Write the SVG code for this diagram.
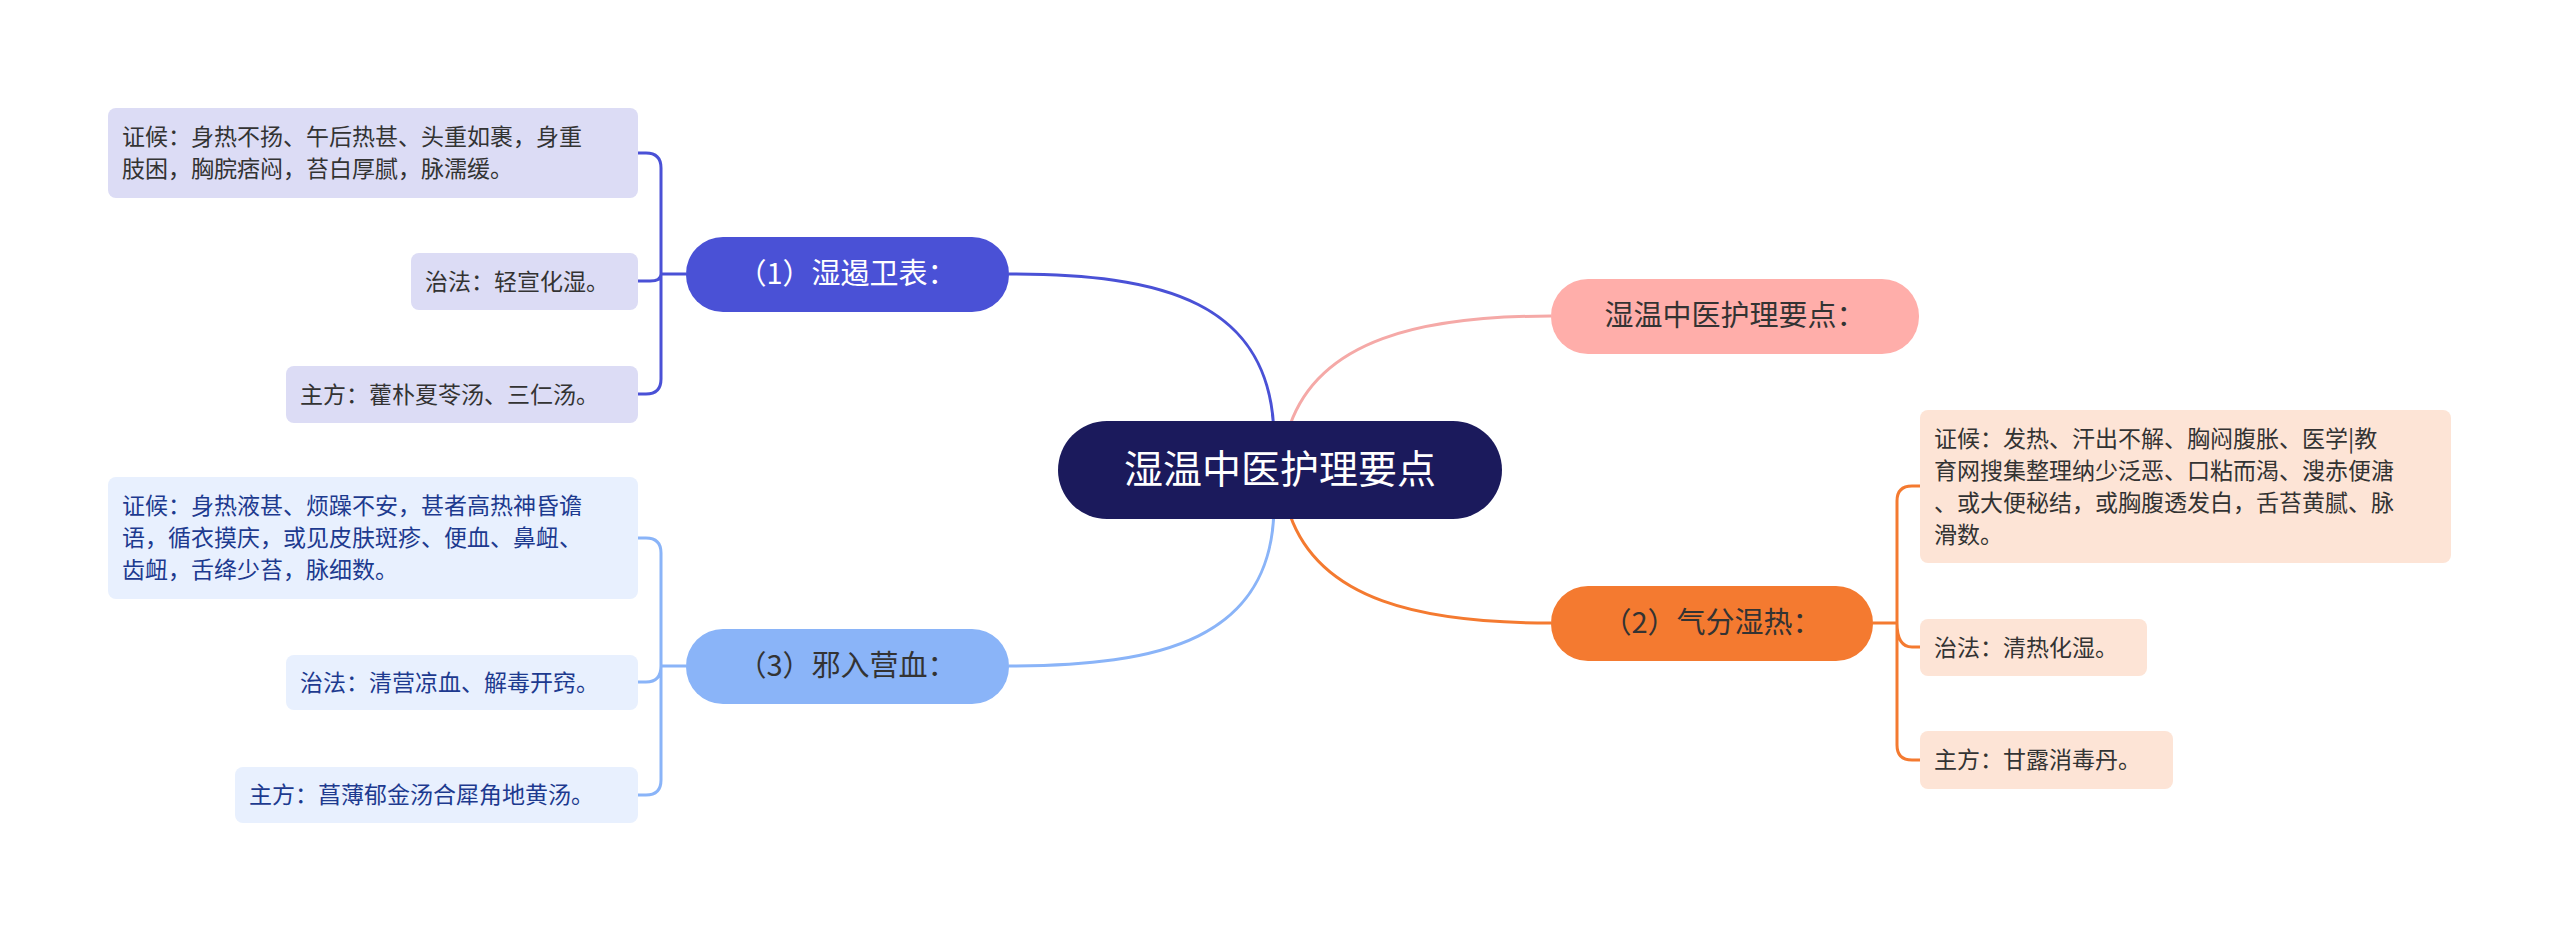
<svg xmlns="http://www.w3.org/2000/svg" width="2560" height="932" viewBox="0 0 2560 932">
<style>
text{font-family:"Noto Sans CJK SC","Noto Sans",sans-serif}
.leaf{font-size:23px}
.br{font-size:29px}
.c{fill:none;stroke-width:3}
</style>
<rect width="2560" height="932" fill="#ffffff"/>
<g id="connectors">
<path class="c" stroke="#4a51d6" d="M1274,440 C1274,300 1160,274 1009,274"/>
<path class="c" stroke="#f5a9a7" d="M1290,425 C1320,340 1420,316 1551,316"/>
<path class="c" stroke="#f47a30" d="M1290,515 C1320,600 1420,623 1551,623"/>
<path class="c" stroke="#8ab4f8" d="M1274,505 C1274,640 1160,666 1009,666"/>
<path class="c" stroke="#4a51d6" d="M686,274 L661,274 M661,274 L661,168 Q661,153 646,153 L638,153 M661,274 Q661,281 650,281 L638,281 M661,274 L661,379 Q661,394 646,394 L638,394"/>
<path class="c" stroke="#8ab4f8" d="M686,666 L661,666 M661,666 L661,553 Q661,538 646,538 L638,538 M661,666 Q661,682 646,682 L638,682 M661,666 L661,780 Q661,795 646,795 L638,795"/>
<path class="c" stroke="#f47a30" d="M1873,623 L1897,623 M1897,623 L1897,501 Q1897,486 1912,486 L1920,486 M1897,623 Q1897,647 1912,647 L1920,647 M1897,623 L1897,745 Q1897,760 1912,760 L1920,760"/>
</g>
<g id="center"><rect x="1058" y="421" width="444" height="98" rx="49" fill="#1b1a5c"/><text x="1280" y="483" font-size="39" fill="#fff" text-anchor="middle">湿温中医护理要点</text></g>
<g id="n-top"><rect x="1551" y="279" width="368" height="75" rx="37" fill="#ffaeaa"/><text x="1735" y="326" class="br" fill="#333" text-anchor="middle">湿温中医护理要点：</text></g>
<g id="n2"><rect x="1551" y="586" width="322" height="75" rx="37" fill="#f47a30"/><text x="1712" y="633" class="br" fill="#333" text-anchor="middle">（2）气分湿热：</text></g>
<g id="n1"><rect x="686" y="237" width="323" height="75" rx="37" fill="#4a51d6"/><text x="847" y="284" class="br" fill="#fff" text-anchor="middle">（1）湿遏卫表：</text></g>
<g id="n3"><rect x="686" y="629" width="323" height="75" rx="37" fill="#8ab4f8"/><text x="847" y="676" class="br" fill="#333" text-anchor="middle">（3）邪入营血：</text></g>
<g id="l1a"><rect x="108" y="108" width="530" height="90" rx="8" fill="#dcdcf5"/><text class="leaf" fill="#333" x="122" y="145">证候：身热不扬、午后热甚、头重如裹，身重</text><text class="leaf" fill="#333" x="122" y="177">肢困，胸脘痞闷，苔白厚腻，脉濡缓。</text></g>
<g id="l1b"><rect x="411" y="253" width="227" height="57" rx="8" fill="#dcdcf5"/><text class="leaf" fill="#333" x="425" y="290">治法：轻宣化湿。</text></g>
<g id="l1c"><rect x="286" y="366" width="352" height="57" rx="8" fill="#dcdcf5"/><text class="leaf" fill="#333" x="300" y="403">主方：藿朴夏苓汤、三仁汤。</text></g>
<g id="l3a"><rect x="108" y="477" width="530" height="122" rx="8" fill="#e8f0fe"/><text class="leaf" fill="#1d3a8f" x="122" y="514">证候：身热液甚、烦躁不安，甚者高热神昏谵</text><text class="leaf" fill="#1d3a8f" x="122" y="546">语，循衣摸庆，或见皮肤斑疹、便血、鼻衄、</text><text class="leaf" fill="#1d3a8f" x="122" y="578">齿衄，舌绛少苔，脉细数。</text></g>
<g id="l3b"><rect x="286" y="655" width="352" height="55" rx="8" fill="#e8f0fe"/><text class="leaf" fill="#1d3a8f" x="300" y="691">治法：清营凉血、解毒开窍。</text></g>
<g id="l3c"><rect x="235" y="767" width="403" height="56" rx="8" fill="#e8f0fe"/><text class="leaf" fill="#1d3a8f" x="249" y="803">主方：菖薄郁金汤合犀角地黄汤。</text></g>
<g id="l2a"><rect x="1920" y="410" width="531" height="153" rx="8" fill="#fde4d6"/><text class="leaf" fill="#333" x="1934" y="447">证候：发热、汗出不解、胸闷腹胀、医学|教</text><text class="leaf" fill="#333" x="1934" y="479">育网搜集整理纳少泛恶、口粘而渴、溲赤便溏</text><text class="leaf" fill="#333" x="1934" y="511">、或大便秘结，或胸腹透发白，舌苔黄腻、脉</text><text class="leaf" fill="#333" x="1934" y="543">滑数。</text></g>
<g id="l2b"><rect x="1920" y="619" width="227" height="57" rx="8" fill="#fde4d6"/><text class="leaf" fill="#333" x="1934" y="656">治法：清热化湿。</text></g>
<g id="l2c"><rect x="1920" y="731" width="253" height="58" rx="8" fill="#fde4d6"/><text class="leaf" fill="#333" x="1934" y="768">主方：甘露消毒丹。</text></g>
</svg>
